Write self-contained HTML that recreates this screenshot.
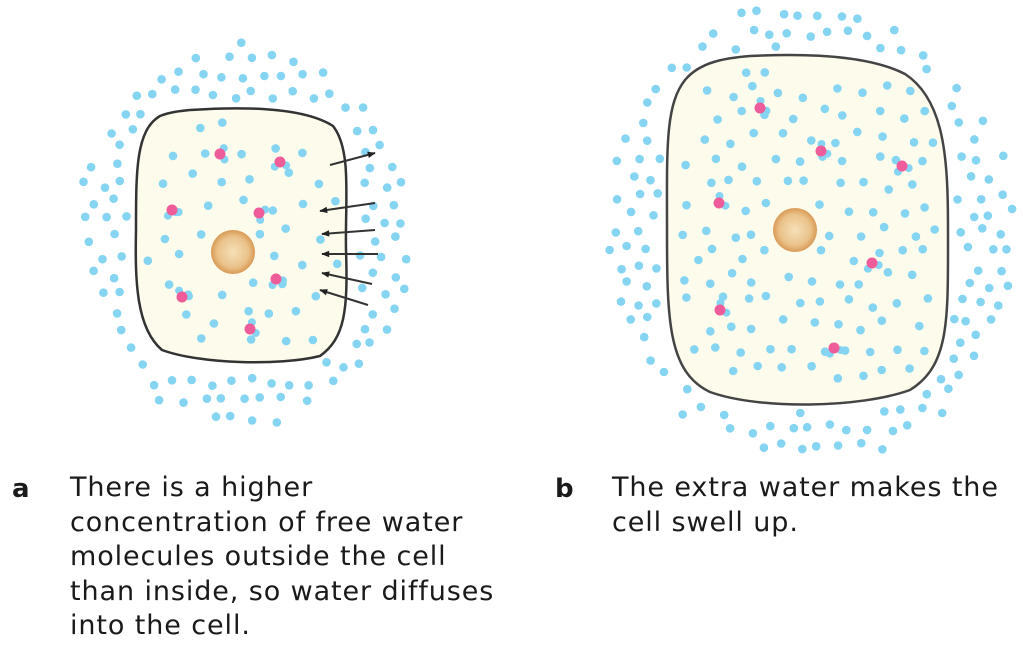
<!DOCTYPE html>
<html><head><meta charset="utf-8"><style>
body{margin:0;background:#fff;width:1023px;height:650px;overflow:hidden;position:relative;font-family:"DejaVu Sans",sans-serif}
.t{position:absolute;font-size:27px;letter-spacing:0.9px;line-height:34.5px;color:#1a1a1a;white-space:nowrap}
.l{position:absolute;font-size:26px;font-weight:bold;color:#1a1a1a}
</style></head><body>
<svg id="s" width="1023" height="470" style="position:absolute;left:0;top:0">
<defs>
<radialGradient id="nu" cx="50%" cy="50%" r="50%"><stop offset="0" stop-color="#f6e0b8"/><stop offset="0.7" stop-color="#eac28a"/><stop offset="1" stop-color="#d99a55"/></radialGradient>
<marker id="ar" viewBox="0 0 10 10" refX="9" refY="5" markerWidth="5" markerHeight="4" orient="auto"><path d="M0,1 L10,5 L0,9 z" fill="#222"/></marker>
</defs>
<g id="dots"></g>
<path id="ca" d="M190,110 C250,106 305,108 333,126 C352,150 345,200 346,250 C348,310 345,338 320,356 C280,366 200,364 162,350 C136,328 135,280 136,230 C136,170 136,130 160,116 C170,112 180,111 190,110 Z" fill="#fdfbec" stroke="#333" stroke-width="2.5"/>
<path id="cb" d="M750,56 C810,53 870,56 905,74 C945,100 948,160 948,230 C948,320 950,365 910,390 C860,408 760,410 710,392 C668,372 667,320 667,230 C667,150 665,105 685,80 C700,62 725,58 750,56 Z" fill="#fdfbec" stroke="#444" stroke-width="2.5"/>
<g id="dots2"></g>
<circle cx="233" cy="252" r="22" fill="url(#nu)"/>
<circle cx="795" cy="230" r="22" fill="url(#nu)"/>
<g stroke="#333" stroke-width="2" fill="none" marker-end="url(#ar)">
<line x1="330" y1="165" x2="375" y2="153"/>
<line x1="375" y1="203" x2="320" y2="211"/>
<line x1="375" y1="230" x2="322" y2="234"/>
<line x1="378" y1="254" x2="322" y2="254"/>
<line x1="372" y1="284" x2="322" y2="273"/>
<line x1="368" y1="305" x2="320" y2="290"/>
</g>
</svg>
<div class="l" style="left:12px;top:474px">a</div>
<div class="t" style="left:70px;top:471px">There is a higher<br>concentration of free water<br>molecules outside the cell<br>than inside, so water diffuses<br>into the cell.</div>
<div class="l" style="left:555px;top:474px">b</div>
<div class="t" style="left:612px;top:471px">The extra water makes the<br>cell swell up.</div>
<script>
(function(){
var seed=11;function r(){seed=(seed*16807)%2147483647;return seed/2147483647;}
var NS="http://www.w3.org/2000/svg";
var g=document.getElementById("dots"),g2=document.getElementById("dots2");
function dot(p,x,y,c,rad){var e=document.createElementNS(NS,"circle");e.setAttribute("cx",x.toFixed(1));e.setAttribute("cy",y.toFixed(1));e.setAttribute("r",rad||4.3);e.setAttribute("fill",c);p.appendChild(e);}
function field(cx,cy,rx,ry,bx0,by0,bx1,by1,sp,spIn,nx,ny){
 var mx=(bx0+bx1)/2,my=(by0+by1)/2,hx=(bx1-bx0)/2,hy=(by1-by0)/2;
 function se(px,py,pad){var ex=Math.abs(px-mx)/(hx+pad),ey=Math.abs(py-my)/(hy+pad);return Math.pow(ex,4)+Math.pow(ey,4);}
 var row=0;
 for(var y=cy-ry;y<=cy+ry;y+=sp*0.9){row++;for(var x=cx-rx+(row%2)*sp/2;x<=cx+rx;x+=sp){
  var px=x+(r()-0.5)*sp*0.45,py=y+(r()-0.5)*sp*0.45;
  var d=Math.pow((px-cx)/rx,2)+Math.pow((py-cy)/ry,2);
  if(d>1-r()*0.15)continue;
  if(se(px,py,8)<1)continue;
  dot(g,px,py,"#85d4f2");}}
 row=0;
 for(var y=by0+12;y<by1-6;y+=spIn*0.9){row++;for(var x=bx0+12+(row%2)*spIn/2;x<bx1-6;x+=spIn){
  var px=x+(r()-0.5)*spIn*0.5,py=y+(r()-0.5)*spIn*0.5;
  if(Math.hypot(px-nx,py-ny)<30)continue;
  if(se(px,py,-10)>0.95)continue;
  dot(g2,px,py,"#85d4f2");}}
}
field(245,235,172,195,136,110,350,362,20,31,233,252);
field(810,232,210,235,667,56,948,405,20,26,795,230);
function mol(x,y,a){dot(g2,x+7*Math.cos(a),y+7*Math.sin(a),"#85d4f2",4);dot(g2,x+7*Math.cos(a+1.9),y+7*Math.sin(a+1.9),"#85d4f2",4);dot(g2,x,y,"#ee5d9a",5.5);}
[[220,154,-1],[280,162,0.5],[172,210,0.3],[259,213,-0.5],[182,297,-2],[276,279,0.2],[250,329,-1.3]].forEach(function(m){mol(m[0],m[1],m[2]);});
[[760,108,-1.5],[821,151,-1.5],[902,166,0.3],[719,203,-1.5],[872,263,0.3],[720,310,-1.5],[834,348,0.3]].forEach(function(m){mol(m[0],m[1],m[2]);});
})();
</script>
</body></html>
